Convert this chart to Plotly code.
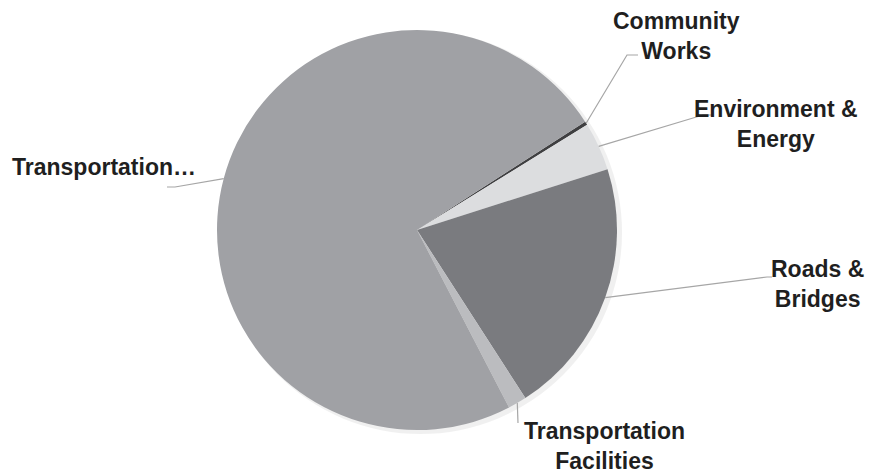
import math
import plotly.graph_objects as go

categories = ["Community Works", "Environment & Energy", "Roads & Bridges",
              "Transportation Facilities", "Transportation…"]
values = [0.3, 3.9, 20.8, 1.5, 73.5]
colors = ["#3f3f41", "#dcdddf", "#7a7b7f", "#bbbcbf", "#a0a1a5"]

OFF = 8  # page body margin
W, H = 887 - OFF, 474 - OFF
CX, CY, R = 417, 230, 200
ROT = 57.2


def px(x):
    return (x - OFF) / W


def py(y):
    return 1 - (y - OFF) / H


fig = go.Figure()
# soft shadow
fig.add_trace(go.Pie(values=[1], marker=dict(colors=["rgba(0,0,0,0.06)"], line=dict(width=0)),
                     textinfo="none", hoverinfo="skip", showlegend=False, sort=False,
                     domain=dict(x=[px(CX - R + 2), px(CX + R + 5)],
                                 y=[py(CY + R + 4), py(CY - R + 1)])))
fig.add_trace(go.Pie(labels=categories, values=values, sort=False, direction="clockwise",
                     rotation=ROT, marker=dict(colors=colors, line=dict(width=0)),
                     textinfo="none", showlegend=False,
                     domain=dict(x=[px(CX - R), px(CX + R)],
                                 y=[py(CY + R), py(CY - R)])))

# leader lines: anchor at slice mid-angle on the rim
elbows = [((627, 55), (638, 55)), ((703, 115), (712, 115)), ((767, 277), (772, 277)),
          ((518, 423), (518, 423)), ((175, 187), (167, 187))]
label_pos = [(676, 36, "Community<br>Works"), (776, 124, "Environment &amp;<br>Energy"),
             (817, 284, "Roads &amp;<br>Bridges"), (604, 446, "Transportation<br>Facilities"),
             (104, 167, "Transportation…")]
total = sum(values)
cum = 0
shapes = []
for v, (e1, e2) in zip(values, elbows):
    mid = ROT + (cum + v / 2) / total * 360
    cum += v
    ax = CX + R * math.sin(math.radians(mid))
    ay = CY - R * math.cos(math.radians(mid))
    path = "M {} {} L {} {} L {} {}".format(px(ax), py(ay), px(e1[0]), py(e1[1]),
                                            px(e2[0]), py(e2[1]))
    shapes.append(dict(type="path", xref="paper", yref="paper", path=path,
                       line=dict(color="#a6a6a6", width=1.2)))

annotations = [dict(x=px(x), y=py(y), xref="paper", yref="paper", text=t, showarrow=False,
                    xanchor="center", yanchor="middle", align="center",
                    font=dict(family="Liberation Sans, Arial", size=23, color="#1f1f1f",
                              weight="bold")) for x, y, t in label_pos]

fig.update_layout(width=W, height=H, margin=dict(l=0, r=0, t=0, b=0),
                  paper_bgcolor="white", plot_bgcolor="white",
                  shapes=shapes, annotations=annotations)
fig.write_html("out.html")
